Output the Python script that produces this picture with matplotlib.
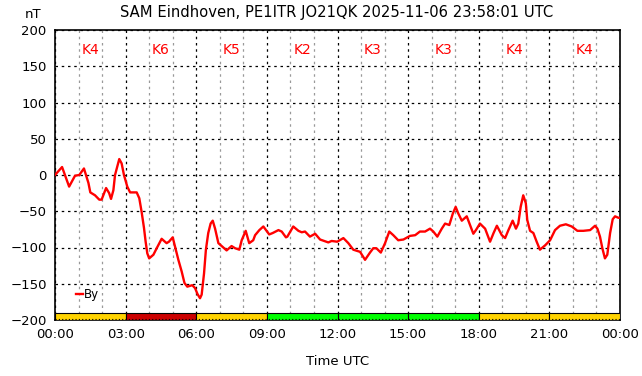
import matplotlib
matplotlib.use("Agg")
import matplotlib.pyplot as plt
from matplotlib.ticker import MultipleLocator

# By component (hours since 00:00 UTC, nT)
hours = [0.0, 0.3, 0.6, 0.85, 1.03, 1.23, 1.42, 1.5, 1.7, 1.88, 1.98, 2.17, 2.3, 2.38,
         2.48, 2.55, 2.73, 2.83, 2.93, 3.07, 3.19, 3.47, 3.58, 3.68, 3.78, 3.85, 3.92,
         4.0, 4.18, 4.32, 4.53, 4.74, 4.84, 5.0, 5.1, 5.24, 5.38, 5.5, 5.62, 5.83, 5.95,
         6.05, 6.16, 6.23, 6.33, 6.41, 6.51, 6.61, 6.7, 6.8, 6.94, 7.08, 7.29, 7.5, 7.65,
         7.83, 7.93, 8.1, 8.25, 8.42, 8.5, 8.68, 8.85, 9.1, 9.25, 9.49, 9.63, 9.81, 9.87,
         10.12, 10.34, 10.48, 10.62, 10.83, 11.05, 11.26, 11.61, 11.75, 11.99, 12.25,
         12.46, 12.67, 12.96, 13.17, 13.38, 13.52, 13.65, 13.84, 14.02, 14.2, 14.37,
         14.58, 14.8, 15.08, 15.3, 15.5, 15.72, 15.93, 16.07, 16.24, 16.43, 16.57, 16.75,
         16.9, 17.02, 17.13, 17.28, 17.49, 17.63, 17.77, 17.88, 18.05, 18.27, 18.48,
         18.63, 18.77, 18.98, 19.12, 19.26, 19.44, 19.58, 19.68, 19.78, 19.89, 20.0,
         20.06, 20.18, 20.32, 20.46, 20.6, 20.82, 21.03, 21.24, 21.45, 21.7, 21.95,
         22.19, 22.44, 22.73, 22.94, 23.04, 23.15, 23.25, 23.36, 23.46, 23.58, 23.69,
         23.79, 23.93, 24.0]
by_nt = [0, 11, -16, -1, 0, 9, -11, -24, -28, -34, -34, -18, -25, -33,
         -21, 0, 22, 16, 0, -16, -24, -24, -32, -51, -73, -92, -108,
         -115, -110, -101, -88, -94, -92, -86, -99, -117, -133, -149, -154, -152, -156,
         -164, -170, -165, -136, -103, -80, -67, -63, -74, -94, -98, -104, -98, -101,
         -103, -90, -77, -94, -90, -83, -76, -71, -82, -80, -76, -78, -86, -85,
         -71, -77, -79, -78, -85, -81, -89, -93, -91, -92, -87,
         -94, -103, -106, -117, -107, -101, -101, -107, -94, -78, -83,
         -90, -89, -84, -83, -78, -78, -74, -78, -85, -74, -67, -69,
         -53, -44, -53, -63, -57, -69, -81, -76, -67, -74, -92,
         -80, -70, -83, -87, -76, -63, -74, -67, -44, -28, -39,
         -62, -77, -80, -92, -103, -97, -90, -76, -70, -68, -71,
         -77, -77, -76, -70, -74, -85, -101, -115, -110, -80, -61,
         -57, -59, -59]

# 3-hour K index blocks
k_start = [0, 3, 6, 9, 12, 15, 18, 21]
k_index = [4, 6, 5, 2, 3, 3, 4, 4]
k_colors = ["#FFD300", "#CC0000", "#FFD300", "#00FF00",
            "#00FF00", "#00FF00", "#FFD300", "#FFD300"]

xtick_pos = [0, 3, 6, 9, 12, 15, 18, 21, 24]
xtick_labels = ["00:00", "03:00", "06:00", "09:00", "12:00",
                "15:00", "18:00", "21:00", "00:00"]

fig = plt.figure(figsize=(6.42, 3.76), dpi=100)
ax = fig.add_axes([55 / 642, 1 - 320 / 376, 565 / 642, 290 / 376])

ax.set_xlim(0, 24)
ax.set_ylim(-200, 200)
ax.yaxis.set_major_locator(MultipleLocator(50))
ax.set_xticks(xtick_pos)
ax.set_xticklabels(xtick_labels)
ax.xaxis.set_minor_locator(MultipleLocator(1))

ax.grid(True, which="major", color="black", linestyle=(0, (2, 3)), linewidth=0.9)
ax.grid(True, which="minor", axis="x", color="#999999", linestyle=(0, (2, 3)), linewidth=0.9)
ax.tick_params(which="both", length=0, labelsize=9.5, pad=6)

for s, k, c in zip(k_start, k_index, k_colors):
    ax.bar(s, 10, width=3, bottom=-200, align="edge", color=c,
           edgecolor="black", linewidth=0.8, zorder=3)
    ax.text(s + 1.5, 172, f"K{k}", color="red", fontsize=10,
            ha="center", va="center", zorder=4)
# dotted line along the bottom of the K bar
ax.axhline(-199.3, color="black", linestyle=(0, (1, 2)), linewidth=0.8, zorder=4)

ax.plot(hours, by_nt, color="red", linewidth=1.7, label="By", zorder=5)

leg = ax.legend(loc="lower left", bbox_to_anchor=(0.018, 0.03), frameon=False,
                handlelength=0.6, handletextpad=0.1, fontsize=8.5)

for sp in ax.spines.values():
    sp.set_linewidth(1.2)

ax.set_xlabel("Time UTC", fontsize=9.5, labelpad=10)
fig.text(33 / 642, 1 - 15 / 376, "nT", fontsize=9.5, ha="center", va="center")
fig.text(337 / 642, 1 - 12 / 376, "SAM Eindhoven, PE1ITR JO21QK 2025-11-06 23:58:01 UTC",
         fontsize=10.6, ha="center", va="center")

fig.savefig("out.png", dpi=100)
